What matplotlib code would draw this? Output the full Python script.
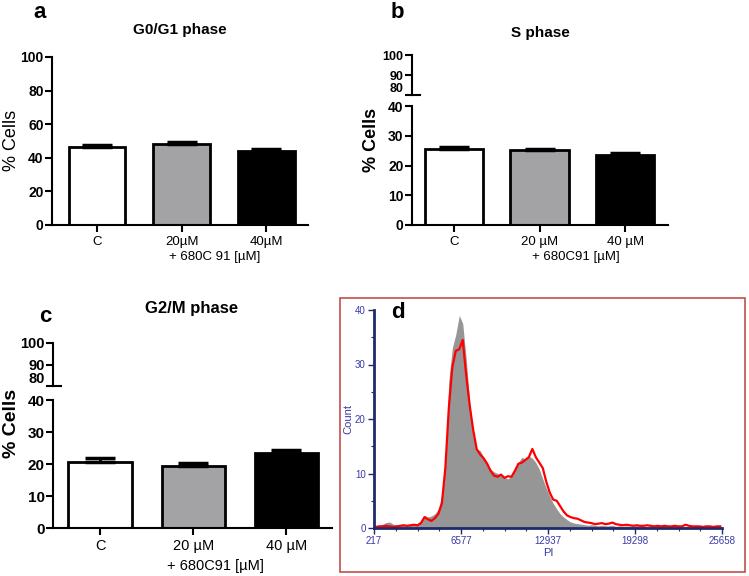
import numpy as np
import matplotlib
matplotlib.use('Agg')
import matplotlib.pyplot as plt
from matplotlib.patches import Rectangle

plt.rcParams['font.family'] = ['Liberation Sans', 'DejaVu Sans']

# bar data (% cells, mean and upper SEM)
groups_a = ['C', '20µM', '40µM']
groups_bc = ['C', '20 µM', '40 µM']
g1_mean = [46.2, 48.2, 44.2]
g1_err = [1.3, 1.5, 1.2]
s_mean = [25.6, 25.3, 23.5]
s_err = [0.7, 0.4, 0.6]
g2_mean = [20.6, 19.4, 23.5]
g2_err = [1.2, 0.8, 0.9]
bar_colors = ['white', '#a3a3a6', 'black']

# flow cytometry histogram (PI channel, 100 bins from 217 to 25658)
pi_ticks = [217, 6577, 12937, 19298, 25658]
gray_counts = [0.3, 0.5, 0.7, 1.0, 1.1, 0.7, 0.5, 0.4, 0.5, 0.6,
               0.5, 0.7, 0.8, 1.2, 2.3, 2.0, 2.2, 2.6, 3.5, 6.0,
               12.0, 27.0, 33.0, 35.5, 39.0, 37.5, 31.0, 23.0, 17.0, 14.5,
               14.2, 13.0, 12.0, 10.8, 10.3, 10.0, 9.6, 9.3, 9.0, 9.6,
               10.8, 12.0, 13.0, 12.6, 13.2, 12.8, 12.0, 10.8, 9.0, 7.3,
               5.8, 4.5, 3.5, 2.6, 2.0, 1.5, 1.1, 0.9, 0.8, 0.7,
               0.6, 0.5, 0.6, 0.5, 0.4, 0.5, 0.4, 0.4, 0.5, 0.3,
               0.4, 0.3, 0.4, 0.3, 0.3, 0.4, 0.3, 0.3, 0.2, 0.3,
               0.3, 0.2, 0.3, 0.3, 0.2, 0.3, 0.2, 0.3, 0.2, 0.3,
               0.2, 0.2, 0.3, 0.2, 0.2, 0.2, 0.3, 0.2, 0.2, 0.2]
red_counts = [0.2, 0.3, 0.3, 0.4, 0.3, 0.2, 0.3, 0.4, 0.5, 0.4,
              0.5, 0.6, 0.5, 0.9, 2.0, 1.6, 1.3, 1.8, 2.6, 4.5,
              11.0, 22.0, 29.5, 32.5, 32.8, 34.5, 28.0, 22.5, 18.0, 14.5,
              13.5, 12.8, 11.8, 10.5, 9.6, 9.4, 9.8, 9.2, 9.5, 9.4,
              10.5, 11.8, 12.0, 12.5, 13.0, 14.5, 13.0, 12.0, 11.0, 8.5,
              6.5, 5.2, 5.0, 4.0, 3.0, 2.3, 2.0, 1.8, 1.7, 1.4,
              1.1, 1.0, 0.9, 0.7, 0.8, 0.9, 0.7, 0.8, 1.0, 0.7,
              0.6, 0.5, 0.6, 0.5, 0.4, 0.5, 0.4, 0.4, 0.5, 0.4,
              0.3, 0.4, 0.3, 0.4, 0.3, 0.3, 0.4, 0.3, 0.3, 0.6,
              0.4, 0.3, 0.3, 0.3, 0.2, 0.3, 0.3, 0.2, 0.3, 0.3]

W, H = 749, 576


def px_axes(fig, x0, y0, x1, y1):
    # pixel box (top-left origin) -> figure axes
    return fig.add_axes([x0 / W, 1 - y1 / H, (x1 - x0) / W, (y1 - y0) / H])


def style_ax(ax, bottom=True, fs=10):
    for s in ['top', 'right']:
        ax.spines[s].set_visible(False)
    ax.spines['left'].set_linewidth(1.5)
    ax.spines['bottom'].set_linewidth(1.5)
    if not bottom:
        ax.spines['bottom'].set_visible(False)
        ax.set_xticks([])
    ax.tick_params(axis='y', direction='out', length=5, width=1.5, pad=1, labelsize=fs)
    ax.tick_params(axis='x', direction='out', length=5, width=1.5, pad=3)
    for t in ax.get_yticklabels():
        t.set_fontweight('bold')


def draw_bars(ax, means, errs, labels, width, xlim, xfs):
    x = np.arange(len(means))
    ax.bar(x, means, width=width, color=bar_colors, edgecolor='black', linewidth=2, zorder=2)
    ax.errorbar(x, means, yerr=[np.zeros(len(errs)), errs], fmt='none', ecolor='black',
                elinewidth=2, capsize=11, capthick=2.5, zorder=3)
    ax.set_xticks(x)
    ax.set_xticklabels(labels, fontsize=xfs)
    ax.set_xlim(xlim)


fig = plt.figure(figsize=(W / 100, H / 100), dpi=100)

# ---- panel a
ax_a = px_axes(fig, 52, 57, 308, 225)
draw_bars(ax_a, g1_mean, g1_err, groups_a, 0.67, (-0.53, 2.49), 9.5)
ax_a.set_ylim(0, 100)
ax_a.set_yticks([0, 20, 40, 60, 80, 100])
style_ax(ax_a)
fig.text(12 / W, 1 - 140 / H, '% Cells', rotation=90, ha='center', va='center', fontsize=13)
fig.text(180 / W, 1 - 30 / H, 'G0/G1 phase', ha='center', va='center', fontsize=11, fontweight='bold')
fig.text(40 / W, 1 - 13 / H, 'a', ha='center', va='center', fontsize=16, fontweight='bold')
fig.text(215 / W, 1 - 257 / H, '+ 680C 91 [µM]', ha='center', va='center', fontsize=9.5)

# ---- panel b (broken axis)
ax_b = px_axes(fig, 412, 106, 668, 225)
draw_bars(ax_b, s_mean, s_err, groups_bc, 0.68, (-0.49, 2.5), 9.5)
ax_b.set_ylim(0, 40)
ax_b.set_yticks([0, 10, 20, 30, 40])
style_ax(ax_b)
ax_bu = px_axes(fig, 412, 55, 668, 95)
ax_bu.set_ylim(80, 100)
ax_bu.set_yticks([80, 90, 100])
ax_bu.set_xlim(-0.49, 2.5)
ax_bu.patch.set_alpha(0)
style_ax(ax_bu, bottom=False, fs=9)
ax_bu.plot([-0.49, -0.40], [80, 80], color='black', lw=1.5, clip_on=False)
ax_bu.get_yticklabels()[0].set_verticalalignment('bottom')
fig.text(372 / W, 1 - 140 / H, '% Cells', rotation=90, ha='center', va='center', fontsize=13, fontweight='bold')
fig.text(540 / W, 1 - 33 / H, 'S phase', ha='center', va='center', fontsize=11, fontweight='bold')
fig.text(397 / W, 1 - 13 / H, 'b', ha='center', va='center', fontsize=16, fontweight='bold')
fig.text(576 / W, 1 - 257 / H, '+ 680C91 [µM]', ha='center', va='center', fontsize=9.5)

# ---- panel c (broken axis)
ax_c = px_axes(fig, 53, 400, 332, 528)
draw_bars(ax_c, g2_mean, g2_err, groups_bc, 0.68, (-0.505, 2.49), 10.5)
ax_c.set_ylim(0, 40)
ax_c.set_yticks([0, 10, 20, 30, 40])
style_ax(ax_c, fs=11)
ax_cu = px_axes(fig, 53, 343, 332, 386)
ax_cu.set_ylim(80, 100)
ax_cu.set_yticks([80, 90, 100])
ax_cu.set_xlim(-0.505, 2.49)
ax_cu.patch.set_alpha(0)
style_ax(ax_cu, bottom=False, fs=10.5)
ax_cu.plot([-0.505, -0.42], [80, 80], color='black', lw=1.5, clip_on=False)
ax_cu.get_yticklabels()[0].set_verticalalignment('bottom')
fig.text(12 / W, 1 - 423 / H, '% Cells', rotation=90, ha='center', va='center', fontsize=14, fontweight='bold')
fig.text(192 / W, 1 - 308 / H, 'G2/M phase', ha='center', va='center', fontsize=12, fontweight='bold')
fig.text(45 / W, 1 - 316 / H, 'c', ha='center', va='center', fontsize=16, fontweight='bold')
fig.text(215 / W, 1 - 566 / H, '+ 680C91 [µM]', ha='center', va='center', fontsize=10.5)

# ---- panel d (histogram overlay)
fig.patches.append(Rectangle((340 / W, 1 - 572 / H), 405 / W, 274 / H, transform=fig.transFigure,
                             fill=False, edgecolor='#c0504d', linewidth=1.2))
ax_d = px_axes(fig, 374, 310, 722, 528)
edges = np.linspace(pi_ticks[0], pi_ticks[-1], len(gray_counts) + 1)
centers = (edges[:-1] + edges[1:]) / 2
ax_d.fill_between(centers, gray_counts, 0, color='#969696', linewidth=0)
ax_d.plot(centers, red_counts, color='#ff0000', linewidth=1.6)
ax_d.set_xlim(pi_ticks[0], pi_ticks[-1])
ax_d.set_ylim(0, 40)
ax_d.set_xticks(pi_ticks)
ax_d.set_xticks(np.linspace(pi_ticks[0], pi_ticks[-1], 17), minor=True)
ax_d.set_yticks([0, 10, 20, 30, 40])
ax_d.set_yticks(np.arange(0, 41, 5), minor=True)
for s in ['top', 'right']:
    ax_d.spines[s].set_visible(False)
for s in ['left', 'bottom']:
    ax_d.spines[s].set_color('#1f2a6b')
    ax_d.spines[s].set_linewidth(2)
ax_d.tick_params(which='major', length=4, width=1, colors='#1f2a6b', labelcolor='#3a3aa8', labelsize=7, pad=2)
ax_d.tick_params(which='minor', length=2, width=0.8, colors='#1f2a6b')
ax_d.set_xlabel('PI', color='#3a3aa8', fontsize=8, labelpad=1)
ax_d.set_ylabel('Count', color='#3a3aa8', fontsize=8, labelpad=1)
fig.text(398 / W, 1 - 313 / H, 'd', ha='center', va='center', fontsize=16, fontweight='bold')

fig.savefig('out.png', dpi=100)
